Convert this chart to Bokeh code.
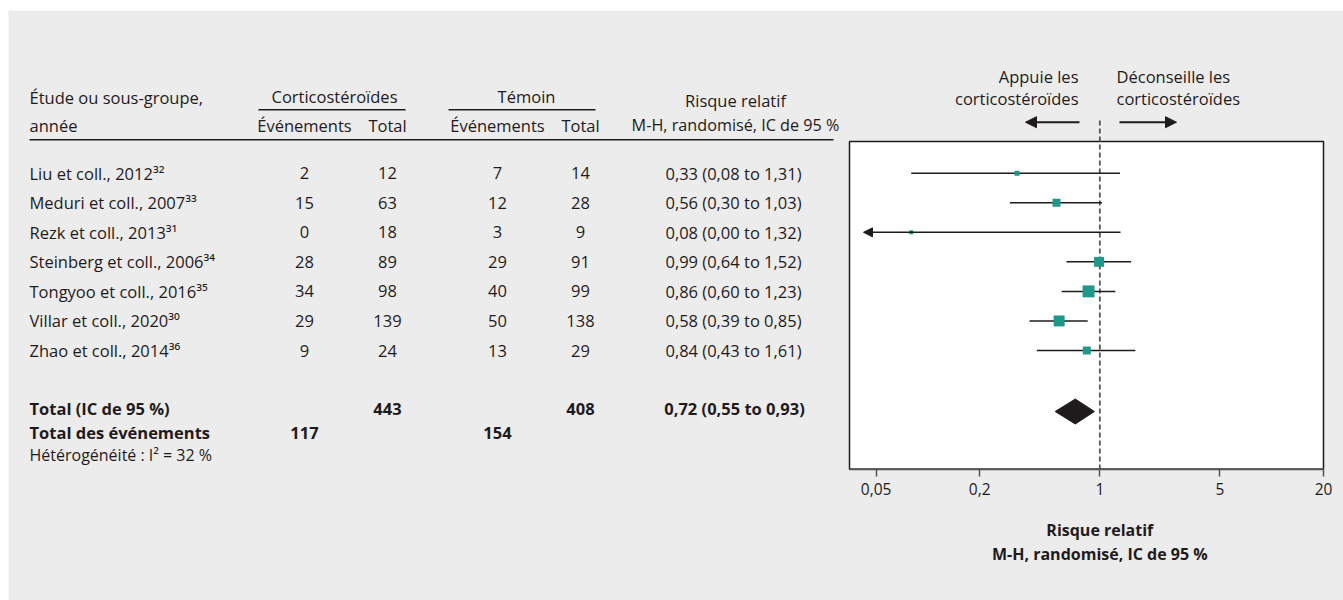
import math

from bokeh.core.properties import value
from bokeh.embed import file_html
from bokeh.models import Arrow, FixedTicker, LogAxis, LogScale, NormalHead, Range1d
from bokeh.plotting import figure
from bokeh.resources import INLINE

# ---------------------------------------------------------------- data
studies = [
    "Liu et coll., 2012",
    "Meduri et coll., 2007",
    "Rezk et coll., 2013",
    "Steinberg et coll., 2006",
    "Tongyoo et coll., 2016",
    "Villar et coll., 2020",
    "Zhao et coll., 2014",
]
refs = ["32", "33", "31", "34", "35", "30", "36"]
cort_events = [2, 15, 0, 28, 34, 29, 9]
cort_total = [12, 63, 18, 89, 98, 139, 24]
ctrl_events = [7, 12, 3, 29, 40, 50, 13]
ctrl_total = [14, 28, 9, 91, 99, 138, 29]
rr = [0.33, 0.56, 0.08, 0.99, 0.86, 0.58, 0.84]
rr_low = [0.08, 0.30, 0.00, 0.64, 0.60, 0.39, 0.43]
rr_high = [1.31, 1.03, 1.32, 1.52, 1.23, 0.85, 1.61]
weights = [4.7, 12.0, 2.9, 18.7, 27.0, 22.7, 12.0]

pooled_rr = 0.72
pooled_low = 0.55
pooled_high = 0.93
total_cort = 443
total_ctrl = 408
events_cort = 117
events_ctrl = 154
i2 = 32

x_ticks = [0.05, 0.2, 1, 5, 20]
x_tick_labels = ["0,05", "0,2", "1", "5", "20"]

# ---------------------------------------------------------------- style
FONT = "Open Sans"
INK = "#1f1b1c"
PANEL = "#ececec"
TEAL = "#21968b"
AXIS_GREY = "#555555"
FS = "16.5px"

SUP = str.maketrans("0123456789", "⁰¹²³⁴⁵⁶⁷⁸⁹")


def fr(v):
    return f"{v:.2f}".replace(".", ",")


def ci_text(m, lo, hi):
    return f"{fr(m)} ({fr(lo)} to {fr(hi)})"


# vertical placement in page pixels
ROW0, ROW_STEP = 172.7, 29.55
row_y = [ROW0 + ROW_STEP * i for i in range(len(studies))]
TOTAL_Y = 408
EVENTS_Y = 432
HET_Y = 454
BOX_TOP, BOX_BOTTOM = 141, 468.7

# horizontal placement of the log panel: 0.035 at x=849, 20 at x=1323
XMIN, XMAX = 0.035, 20
BOX_LEFT, BOX_RIGHT = 849, 1323
PX_PER_DEC = (BOX_RIGHT - BOX_LEFT) / math.log10(XMAX / XMIN)


def rr_at(px):
    """Relative-risk value sitting at a given horizontal page position."""
    return XMIN * 10 ** ((px - BOX_LEFT) / PX_PER_DEC)


# one canvas: default ranges are page pixels, "rr" is the log risk scale
p = figure(width=1343, height=600, x_range=Range1d(8, 1343), y_range=Range1d(600, 10),
           x_axis_location=None, y_axis_location=None, toolbar_location=None,
           output_backend="svg", min_border_left=8, min_border_top=10,
           min_border_right=0, min_border_bottom=0)
p.extra_x_ranges = {"rr": Range1d(rr_at(8), rr_at(1343))}
p.extra_x_scales = {"rr": LogScale()}
p.background_fill_color = PANEL
p.border_fill_color = "white"
p.outline_line_color = None
p.xgrid.visible = False
p.ygrid.visible = False


def txt(x, y, t, align="center", size=FS, bold=False, rng="default"):
    p.text(x=x if isinstance(x, list) else [x], y=y if isinstance(y, list) else [y],
           text=t if isinstance(t, list) else [t],
           text_align=align, text_baseline="middle",
           text_font=value(FONT), text_font_size=size,
           text_font_style="bold" if bold else "normal", text_color=INK,
           x_range_name=rng)


# ---------------------------------------------------------------- table
txt(29, 97, "Étude ou sous-groupe,", align="left")
txt(29, 125, "année", align="left")
txt(334, 96, "Corticostéroïdes")
txt(304, 125, "Événements")
txt(387, 125, "Total")
txt(526, 96, "Témoin")
txt(497, 125, "Événements")
txt(580, 125, "Total")
txt(735, 100, "Risque relatif")
txt(735, 124, "M-H, randomisé, IC de 95 %", size="16.2px")

p.segment(x0=[258, 448, 29], x1=[405, 595, 833], y0=[109.3, 109.3, 139.3],
          y1=[109.3, 109.3, 139.3], line_color=INK, line_width=1.5)

n = len(studies)
txt([29] * n, row_y, [s + r.translate(SUP) for s, r in zip(studies, refs)], align="left")
txt([304] * n, row_y, [str(v) for v in cort_events])
txt([387] * n, row_y, [str(v) for v in cort_total])
txt([497] * n, row_y, [str(v) for v in ctrl_events])
txt([580] * n, row_y, [str(v) for v in ctrl_total])
txt([733] * n, row_y, [ci_text(m, lo, hi) for m, lo, hi in zip(rr, rr_low, rr_high)])

txt(29, TOTAL_Y, "Total (IC de 95 %)", align="left", bold=True)
txt(387, TOTAL_Y, str(total_cort), bold=True)
txt(580, TOTAL_Y, str(total_ctrl), bold=True)
txt(734, TOTAL_Y, ci_text(pooled_rr, pooled_low, pooled_high), bold=True)
txt(29, EVENTS_Y, "Total des événements", align="left", bold=True)
txt(304, EVENTS_Y, str(events_cort), bold=True)
txt(497, EVENTS_Y, str(events_ctrl), bold=True)
txt(29, HET_Y, f"Hétérogénéité : I² = {i2} %", align="left", size="16px")

# ---------------------------------------------------------------- forest panel
p.quad(left=XMIN, right=XMAX, top=BOX_TOP, bottom=BOX_BOTTOM, x_range_name="rr",
       fill_color="white", line_color=INK, line_width=1.5)

# no-effect reference line
p.segment(x0=[1], x1=[1], y0=[120], y1=[BOX_BOTTOM], x_range_name="rr",
          line_color=AXIS_GREY, line_width=1.8, line_dash="5 3")

# confidence intervals; an open lower bound ends in an arrow at the panel edge
open_low = [i for i, lo in enumerate(rr_low) if lo < XMIN]
closed = [i for i in range(n) if i not in open_low]
p.segment(x0=[rr_low[i] for i in closed], x1=[rr_high[i] for i in closed],
          y0=[row_y[i] for i in closed], y1=[row_y[i] for i in closed],
          x_range_name="rr", line_color=INK, line_width=1.5)
for i in open_low:
    p.add_layout(Arrow(x_start=rr_high[i], x_end=rr_at(863), y_start=row_y[i],
                       y_end=row_y[i], x_range_name="rr", line_color=INK, line_width=1.5,
                       end=NormalHead(size=9, fill_color=INK, line_color=INK)))

# study estimates, square area proportional to weight
p.scatter(x=rr, y=row_y, marker="square", size=[2.3 * math.sqrt(w) for w in weights],
          x_range_name="rr", fill_color=TEAL, line_color=None)

# pooled estimate
dy = 3
p.patch(x=[pooled_low, pooled_rr, pooled_high, pooled_rr],
        y=[TOTAL_Y + dy, TOTAL_Y + dy - 12.5, TOTAL_Y + dy, TOTAL_Y + dy + 12.5],
        x_range_name="rr", fill_color=INK, line_color=INK, line_width=1)

# axis along the bottom edge of the panel
p.segment(x0=[XMIN], x1=[XMAX], y0=[BOX_BOTTOM], y1=[BOX_BOTTOM], x_range_name="rr",
          line_color=AXIS_GREY, line_width=2)
ax = LogAxis(x_range_name="rr", ticker=FixedTicker(ticks=x_ticks),
             fixed_location=BOX_BOTTOM)
ax.major_label_overrides = dict(zip(x_ticks, x_tick_labels))
ax.axis_line_color = None
ax.major_tick_line_color = AXIS_GREY
ax.major_tick_line_width = 1.5
ax.major_tick_out = 7
ax.major_tick_in = 0
ax.minor_tick_line_color = None
ax.major_label_text_font = FONT
ax.major_label_text_font_size = "15.5px"
ax.major_label_text_color = INK
ax.major_label_standoff = 7
p.add_layout(ax, "below")

txt(1, 529, "Risque relatif", bold=True, size="16px", rng="rr")
txt(1, 553, "M-H, randomisé, IC de 95 %", bold=True, size="16px", rng="rr")

# direction arrows and captions
for x0, x1 in [(1079, 1025), (1119, 1176)]:
    p.add_layout(Arrow(x_start=x0, x_end=x1, y_start=121.7, y_end=121.7,
                       line_color=INK, line_width=2,
                       end=NormalHead(size=11, fill_color=INK, line_color=INK)))
txt(1078, 76, "Appuie les", align="right")
txt(1078, 98, "corticostéroïdes", align="right")
txt(1116, 76, "Déconseille les", align="left")
txt(1116, 98, "corticostéroïdes", align="left")

with open("out.html", "w") as f:
    f.write(file_html(p, INLINE))
